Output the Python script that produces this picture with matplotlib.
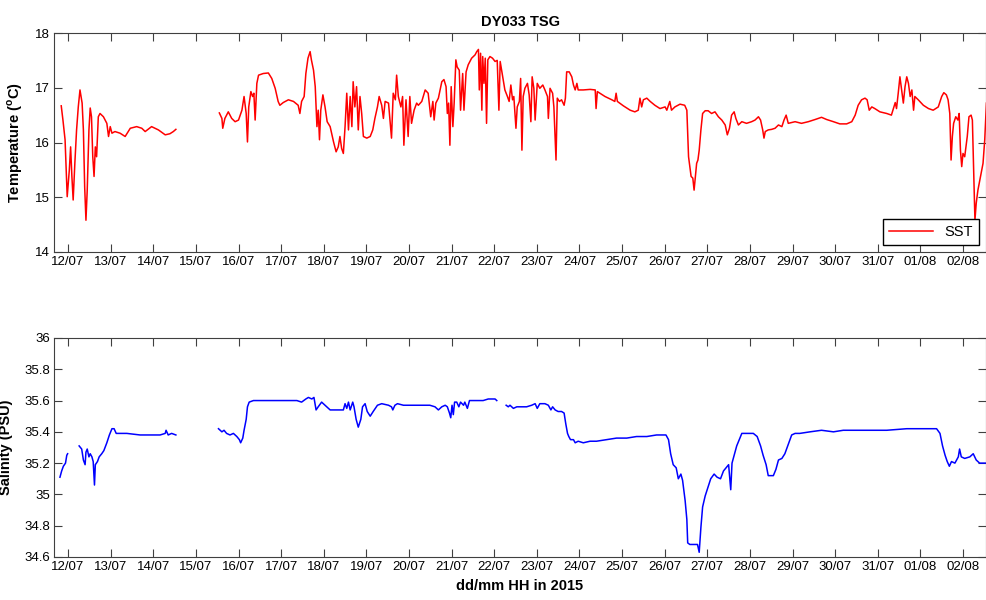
import numpy as np
import pandas as pd
import matplotlib
matplotlib.use("Agg")
import matplotlib.pyplot as plt
import matplotlib.dates as mdates
from matplotlib.ticker import FuncFormatter

plt.rcParams['font.family'] = ['Liberation Sans', 'DejaVu Sans']
plt.rcParams['mathtext.fontset'] = 'custom'
plt.rcParams['mathtext.rm'] = 'Liberation Sans:bold'
plt.rcParams['mathtext.bf'] = 'Liberation Sans:bold'

# time in decimal day of July 2015 (32 = 01/08)
# NaN marks gaps in the record
t_sst = [11.84, 11.88, 11.93, 11.98, 12.03, 12.06, 12.09, 12.12, 12.16, 12.20,
         12.24, 12.28, 12.33, 12.36, 12.39, 12.42, 12.45, 12.49, 12.52, 12.55,
         12.58, 12.61, 12.64, 12.67, 12.71, 12.75, 12.83, 12.91, 12.95, 12.99,
         13.03, 13.10, 13.22, 13.34, 13.46, 13.61, 13.73, 13.81, 13.96, 14.12,
         14.28, 14.39, 14.47, 14.53, 15.00,
         15.55, 15.61, 15.63, 15.68, 15.76, 15.84, 15.92, 16.00, 16.08, 16.13,
         16.18, 16.21, 16.24, 16.29, 16.33, 16.36, 16.39, 16.43, 16.47, 16.58,
         16.70, 16.78, 16.86, 16.93, 16.97, 17.05, 17.17, 17.29, 17.40, 17.44,
         17.48, 17.54, 17.58, 17.63, 17.68, 17.71, 17.76, 17.80, 17.84, 17.87,
         17.90, 17.93, 17.98, 18.03, 18.08, 18.15, 18.23, 18.29, 18.34, 18.38,
         18.42, 18.46, 18.50, 18.54, 18.58, 18.62, 18.66, 18.69, 18.73, 18.77,
         18.81, 18.85, 18.89, 18.93, 19.01, 19.09, 19.15, 19.20, 19.26, 19.30,
         19.36, 19.40, 19.44, 19.52, 19.59, 19.63, 19.68, 19.71, 19.75, 19.81,
         19.85, 19.88, 19.93, 19.98, 20.02, 20.06, 20.12, 20.18, 20.22, 20.30,
         20.38, 20.45, 20.51, 20.56, 20.59, 20.63, 20.69, 20.77, 20.82, 20.87,
         20.90, 20.93, 20.96, 20.99, 21.03, 21.06, 21.10, 21.13, 21.18, 21.21,
         21.26, 21.29, 21.34, 21.39, 21.47, 21.55, 21.59, 21.63, 21.65, 21.68,
         21.71, 21.73, 21.76, 21.79, 21.82, 21.85, 21.90, 21.96, 22.02, 22.07,
         22.11, 22.14, 22.20, 22.25, 22.31, 22.35, 22.39, 22.43, 22.46, 22.51,
         22.54, 22.59, 22.62, 22.65, 22.68, 22.72, 22.78, 22.82, 22.86, 22.89,
         22.93, 22.96, 23.01, 23.07, 23.14, 23.19, 23.25, 23.27, 23.31, 23.37,
         23.40, 23.45, 23.48, 23.53, 23.58, 23.64, 23.67, 23.70, 23.76, 23.82,
         23.86, 23.90, 23.94, 23.97, 24.09, 24.25, 24.37, 24.39, 24.42, 24.48,
         24.60, 24.76, 24.83, 24.86, 24.89, 25.03, 25.19, 25.30, 25.38, 25.42,
         25.46, 25.50, 25.58, 25.66, 25.77, 25.89, 26.01, 26.05, 26.12, 26.16,
         26.24, 26.36, 26.47, 26.52, 26.54, 26.56, 26.59, 26.62, 26.66, 26.69,
         26.72, 26.75, 26.78, 26.81, 26.85, 26.89, 26.95, 27.02, 27.10, 27.18,
         27.26, 27.34, 27.42, 27.47, 27.52, 27.57, 27.63, 27.67, 27.73, 27.81,
         27.92, 28.04, 28.12, 28.20, 28.25, 28.30, 28.33, 28.36, 28.43, 28.51,
         28.59, 28.67, 28.75, 28.80, 28.85, 28.90, 29.06, 29.21, 29.37, 29.53,
         29.68, 29.80, 29.96, 30.11, 30.27, 30.39, 30.47, 30.54, 30.62, 30.70,
         30.75, 30.80, 30.86, 30.93, 31.05, 31.21, 31.32, 31.38, 31.41, 31.44,
         31.48, 31.52, 31.56, 31.60, 31.64, 31.68, 31.72, 31.76, 31.80, 31.84,
         31.87, 31.95, 32.07, 32.19, 32.30, 32.42, 32.50, 32.55, 32.61, 32.65,
         32.69, 32.72, 32.75, 32.78, 32.83, 32.88, 32.91, 32.94, 32.97, 33.00,
         33.04, 33.10, 33.14, 33.19, 33.22, 33.25, 33.28, 33.31, 33.35, 33.41,
         33.47, 33.51, 33.55]
sst = [16.67, 16.41, 16.05, 15.01, 15.50, 15.92, 15.38, 14.95, 15.63, 16.23,
       16.65, 16.96, 16.72, 16.23, 15.19, 14.58, 15.13, 16.23, 16.63, 16.47,
       15.74, 15.38, 15.92, 15.74, 16.47, 16.53, 16.47, 16.35, 16.11, 16.29,
       16.17, 16.20, 16.17, 16.11, 16.26, 16.29, 16.26, 16.20, 16.29, 16.23,
       16.14, 16.16, 16.20, 16.24, np.nan,
       16.54, 16.44, 16.26, 16.44, 16.56, 16.44, 16.38, 16.41, 16.59, 16.84,
       16.53, 16.01, 16.65, 16.93, 16.84, 16.90, 16.41, 17.08, 17.23, 17.26,
       17.27, 17.17, 16.99, 16.75, 16.68, 16.73, 16.78, 16.75, 16.68, 16.53,
       16.75, 16.84, 17.26, 17.54, 17.66, 17.51, 17.32, 17.02, 16.29, 16.59,
       16.05, 16.59, 16.87, 16.65, 16.38, 16.29, 16.01, 15.83, 15.92, 16.11,
       15.89, 15.80, 16.29, 16.90, 16.23, 16.84, 16.29, 17.11, 16.65, 17.02,
       16.23, 16.84, 16.53, 16.11, 16.08, 16.11, 16.23, 16.44, 16.65, 16.84,
       16.68, 16.44, 16.75, 16.72, 16.08, 16.90, 16.78, 17.23, 16.84, 16.65,
       16.84, 15.95, 16.78, 16.11, 16.84, 16.35, 16.59, 16.72, 16.68, 16.75,
       16.96, 16.90, 16.47, 16.75, 16.41, 16.72, 16.81, 17.11, 17.15, 17.02,
       16.53, 16.72, 15.95, 17.02, 16.29, 16.72, 17.51, 17.38, 17.32, 16.59,
       17.26, 16.59, 17.29, 17.42, 17.54, 17.60, 17.66, 17.70, 16.96, 17.63,
       16.59, 17.57, 17.08, 17.54, 16.35, 17.51, 17.57, 17.54, 17.48, 17.50,
       16.59, 17.48, 17.20, 16.96, 16.84, 16.75, 17.05, 16.78, 16.84, 16.26,
       16.65, 16.75, 17.17, 15.86, 16.84, 16.99, 17.08, 16.87, 16.38, 17.20,
       16.99, 16.41, 17.08, 16.99, 17.05, 16.96, 16.84, 16.44, 16.99, 16.90,
       16.65, 15.68, 16.81, 16.75, 16.78, 16.68, 16.81, 17.29, 17.29, 17.20,
       17.05, 16.96, 17.08, 16.96, 16.96, 16.97, 16.96, 16.62, 16.93, 16.90,
       16.84, 16.78, 16.75, 16.90, 16.75, 16.67, 16.59, 16.56, 16.59, 16.81,
       16.65, 16.78, 16.81, 16.75, 16.68, 16.62, 16.65, 16.59, 16.75, 16.59,
       16.65, 16.70, 16.68, 16.59, 16.17, 15.74, 15.56, 15.38, 15.35, 15.13,
       15.38, 15.62, 15.68, 15.86, 16.23, 16.53, 16.58, 16.58, 16.53, 16.56,
       16.47, 16.41, 16.32, 16.14, 16.26, 16.50, 16.56, 16.44, 16.32, 16.38,
       16.35, 16.38, 16.41, 16.47, 16.41, 16.23, 16.08, 16.20, 16.23, 16.24,
       16.26, 16.32, 16.29, 16.41, 16.50, 16.35, 16.38, 16.35, 16.38, 16.42,
       16.46, 16.42, 16.38, 16.34, 16.34, 16.38, 16.50, 16.68, 16.78, 16.81,
       16.78, 16.59, 16.65, 16.62, 16.56, 16.53, 16.50, 16.65, 16.73, 16.62,
       16.90, 17.20, 16.96, 16.72, 17.02, 17.20, 17.08, 16.84, 16.96, 16.59,
       16.84, 16.78, 16.68, 16.62, 16.59, 16.65, 16.84, 16.91, 16.87, 16.78,
       16.53, 15.68, 16.11, 16.35, 16.47, 16.41, 16.53, 15.86, 15.56, 15.80,
       15.74, 16.11, 16.47, 16.50, 16.41, 15.50, 14.58, 14.89, 15.13, 15.38,
       15.62, 16.05, 16.72]

t_sal = [11.81, 11.85, 11.89, 11.94, 11.97, 11.99, 12.10,
         12.26, 12.32, 12.36, 12.40, 12.42, 12.45, 12.49, 12.52, 12.56, 12.59,
         12.62, 12.64, 12.69, 12.73, 12.79, 12.84, 12.91, 12.97, 13.03, 13.08,
         13.13, 13.38, 13.69, 14.00, 14.16, 14.28, 14.30, 14.35, 14.43, 14.53,
         15.00,
         15.53, 15.61, 15.66, 15.72, 15.80, 15.88, 15.96, 16.02, 16.05, 16.10,
         16.13, 16.18, 16.21, 16.25, 16.35, 16.66, 16.90, 17.13, 17.37, 17.48,
         17.58, 17.64, 17.72, 17.77, 17.82, 17.87, 17.95, 18.03, 18.11, 18.15,
         18.30, 18.46, 18.50, 18.54, 18.58, 18.62, 18.68, 18.71, 18.76, 18.81,
         18.87, 18.91, 18.97, 19.02, 19.09, 19.16, 19.26, 19.36, 19.52, 19.59,
         19.62, 19.67, 19.73, 19.87, 20.02, 20.18, 20.34, 20.49, 20.61, 20.69,
         20.77, 20.85, 20.90, 20.95, 20.98, 21.01, 21.04, 21.07, 21.12, 21.17,
         21.21, 21.28, 21.31, 21.37, 21.42, 21.51, 21.63, 21.74, 21.86, 21.98,
         22.02, 22.06, 22.17,
         22.28, 22.33, 22.37, 22.45, 22.53, 22.65, 22.76, 22.88, 22.96, 23.01,
         23.07, 23.19, 23.27, 23.33, 23.37, 23.43, 23.50, 23.58, 23.64, 23.68,
         23.72, 23.75, 23.79, 23.86, 23.90, 23.97, 24.09, 24.25, 24.40, 24.64,
         24.87, 25.11, 25.34, 25.58, 25.81, 26.03, 26.09, 26.14, 26.20, 26.27,
         26.32, 26.38, 26.42, 26.48, 26.52, 26.54, 26.59, 26.69, 26.77, 26.81,
         26.85, 26.89, 26.95, 27.02, 27.08, 27.16, 27.23, 27.31, 27.38, 27.44,
         27.50, 27.55, 27.58, 27.63, 27.69, 27.75, 27.81, 27.92, 28.08, 28.17,
         28.25, 28.31, 28.38, 28.43, 28.55, 28.61, 28.67, 28.75, 28.82, 28.90,
         28.98, 29.06, 29.17, 29.41, 29.68, 29.96, 30.19, 30.74, 31.21, 31.68,
         32.07, 32.38, 32.46, 32.52, 32.58, 32.63, 32.68, 32.73, 32.81, 32.89,
         32.92, 32.96, 33.04, 33.16, 33.24, 33.31, 33.39, 33.53]
sal = [35.11, 35.15, 35.18, 35.20, 35.25, 35.26, np.nan,
       35.31, 35.29, 35.22, 35.19, 35.27, 35.29, 35.24, 35.26, 35.24, 35.21,
       35.06, 35.19, 35.21, 35.24, 35.26, 35.28, 35.33, 35.38, 35.42, 35.42,
       35.39, 35.39, 35.38, 35.38, 35.38, 35.39, 35.41, 35.38, 35.39, 35.38,
       np.nan,
       35.42, 35.40, 35.41, 35.39, 35.38, 35.39, 35.37, 35.35, 35.33, 35.36,
       35.41, 35.48, 35.56, 35.59, 35.60, 35.60, 35.60, 35.60, 35.60, 35.59,
       35.61, 35.62, 35.61, 35.62, 35.54, 35.56, 35.59, 35.57, 35.55, 35.54,
       35.54, 35.54, 35.58, 35.55, 35.59, 35.54, 35.59, 35.56, 35.48, 35.43,
       35.48, 35.56, 35.58, 35.53, 35.50, 35.53, 35.57, 35.58, 35.57, 35.56,
       35.54, 35.57, 35.58, 35.57, 35.57, 35.57, 35.57, 35.57, 35.56, 35.54,
       35.56, 35.57, 35.56, 35.52, 35.49, 35.57, 35.51, 35.59, 35.59, 35.56,
       35.59, 35.57, 35.59, 35.55, 35.60, 35.60, 35.60, 35.60, 35.61, 35.61,
       35.61, 35.60, np.nan,
       35.57, 35.56, 35.57, 35.55, 35.56, 35.56, 35.56, 35.57, 35.58, 35.55,
       35.58, 35.58, 35.57, 35.54, 35.56, 35.54, 35.53, 35.53, 35.52, 35.45,
       35.39, 35.37, 35.35, 35.35, 35.33, 35.34, 35.33, 35.34, 35.34, 35.35,
       35.36, 35.36, 35.37, 35.37, 35.38, 35.38, 35.35, 35.26, 35.19, 35.17,
       35.10, 35.13, 35.09, 34.96, 34.84, 34.69, 34.68, 34.68, 34.68, 34.63,
       34.79, 34.92, 34.99, 35.05, 35.10, 35.13, 35.11, 35.10, 35.15, 35.17,
       35.19, 35.03, 35.20, 35.25, 35.31, 35.35, 35.39, 35.39, 35.39, 35.37,
       35.31, 35.25, 35.19, 35.12, 35.12, 35.16, 35.22, 35.23, 35.26, 35.32,
       35.38, 35.39, 35.39, 35.40, 35.41, 35.40, 35.41, 35.41, 35.41, 35.42,
       35.42, 35.42, 35.39, 35.31, 35.25, 35.21, 35.18, 35.21, 35.20, 35.24,
       35.29, 35.24, 35.23, 35.24, 35.26, 35.22, 35.20, 35.20]

t_start, t_end = 11.67, 33.54


def to_dates(days):
    return (pd.Timestamp('2015-07-01') + pd.to_timedelta(np.array(days) - 1, unit='D')).to_pydatetime()


fig = plt.figure(figsize=(9.87, 6.0), dpi=100)
ax1 = fig.add_axes([0.0547, 0.58, 0.9443, 0.365])
ax2 = fig.add_axes([0.0547, 0.0717, 0.9443, 0.365])

ax1.plot(to_dates(t_sst), sst, color='#ff0000', lw=1.1, label='SST')
ax2.plot(to_dates(t_sal), sal, color='#0000ff', lw=1.1)

for ax in (ax1, ax2):
    ax.set_xlim(to_dates([t_start, t_end]))
    ax.xaxis.set_major_locator(mdates.DayLocator())
    ax.xaxis.set_major_formatter(mdates.DateFormatter('%d/%m'))
    ax.tick_params(direction='in', top=True, right=True, length=6, width=0.8,
                   color='#404040', labelsize=9.5, pad=3)
    for s in ax.spines.values():
        s.set_color('#404040')
        s.set_linewidth(0.8)

ax1.set_ylim(14, 18)
ax1.set_yticks([14, 15, 16, 17, 18])
ax1.set_ylabel(r'Temperature ($^{\mathbf{o}}$C)', fontsize=10.5, fontweight='bold')
ax1.yaxis.set_label_coords(-0.031, 0.5)
ax1.set_title('DY033 TSG', fontsize=10.5, fontweight='bold', pad=5)
ax1.legend(loc='lower right', fancybox=False, edgecolor='black', framealpha=1,
           fontsize=10.5, handlelength=3.0, borderaxespad=0.5)

ax2.set_ylim(34.6, 36)
ax2.set_yticks(np.arange(34.6, 36.01, 0.2))
ax2.yaxis.set_major_formatter(FuncFormatter(lambda v, p: '%g' % round(v, 1)))
ax2.set_ylabel('Salinity (PSU)', fontsize=10.5, fontweight='bold')
ax2.yaxis.set_label_coords(-0.044, 0.5)
ax2.set_xlabel('dd/mm HH in 2015', fontsize=10.5, fontweight='bold', labelpad=4)

fig.savefig('out.png', dpi=100)
